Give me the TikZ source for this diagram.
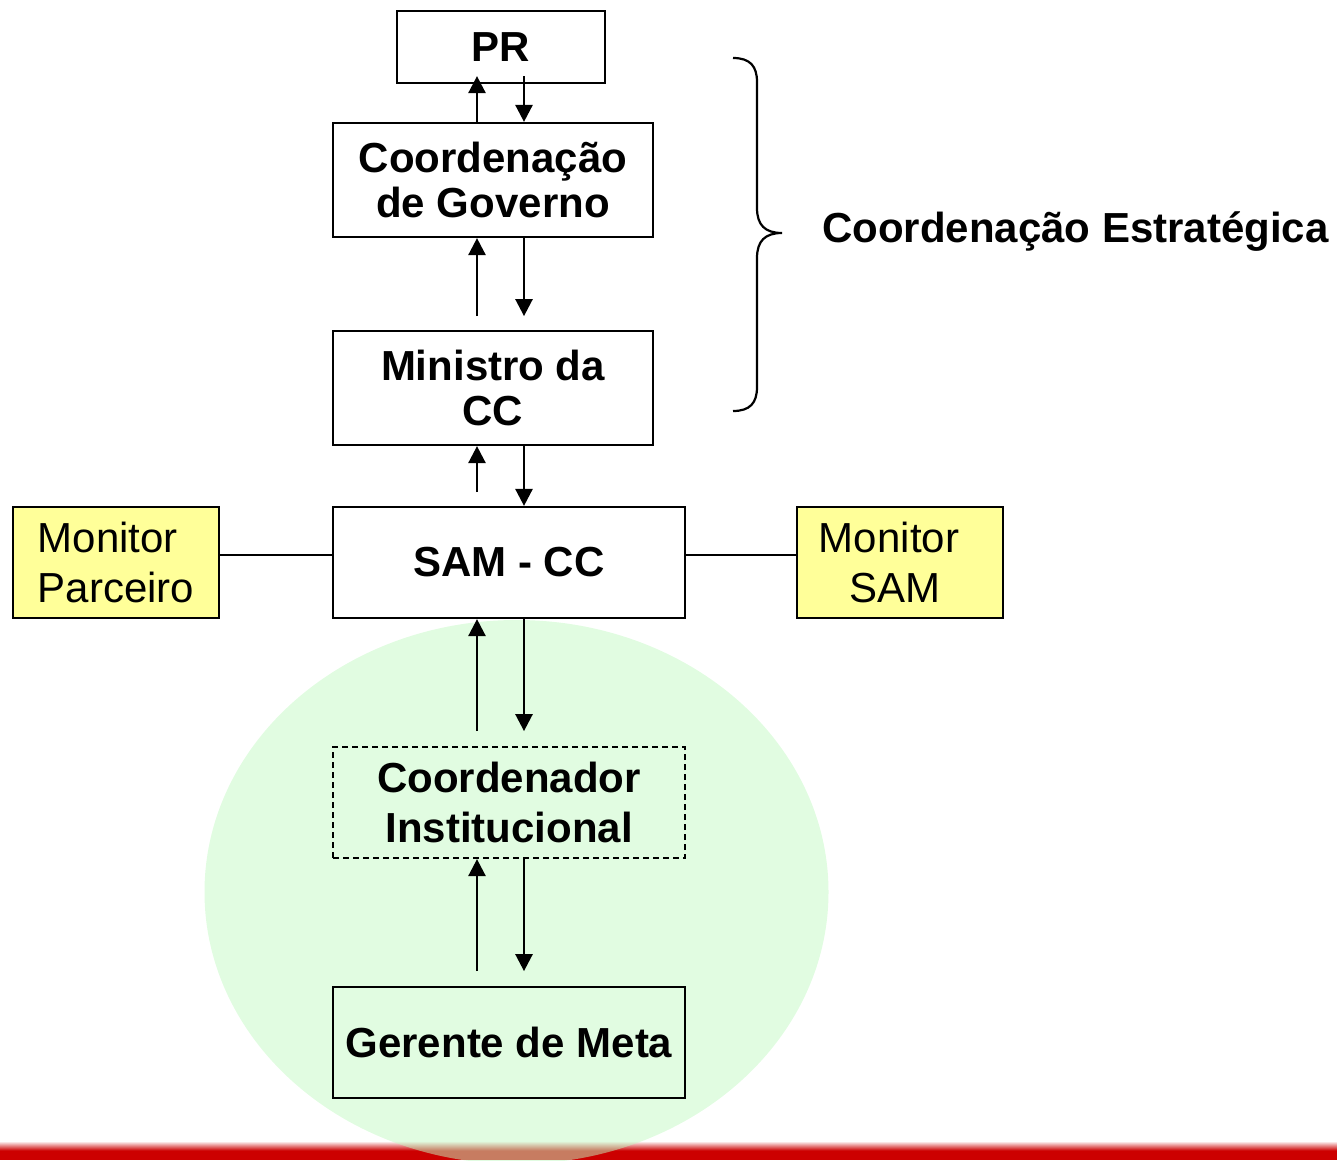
\documentclass[tikz,border=0pt]{standalone}
\usepackage{fontspec}
\setmainfont{Liberation Sans}
\usetikzlibrary{arrows.meta,calc}
\definecolor{ellgreen}{RGB}{195,249,195}
\definecolor{monyellow}{RGB}{255,255,153}
\definecolor{barred}{RGB}{204,0,0}
\begin{document}
\begin{tikzpicture}[x=1pt,y=-1pt,
  box/.style={draw, line width=2.2pt, inner sep=0pt, align=center,
    font=\fontsize{42}{45}\selectfont\bfseries},
  monbox/.style={draw, line width=2.2pt, inner sep=0pt, fill=monyellow,
    font=\fontsize{42}{50}\selectfont},
  arr/.style={line width=2.6pt, -{Triangle[length=17pt,width=17pt]}},
  conn/.style={line width=2.2pt}]
\useasboundingbox (0,0) rectangle (1337,1160);
\begin{scope}
\clip (0,0) rectangle (1337,1160);
\fill[barred] (0,1150) rectangle (1337,1160);
\shade[top color=white, bottom color=barred] (0,1141) rectangle (1337,1150.5);
\fill[ellgreen, opacity=0.5] (516.5,892) ellipse [x radius=312, y radius=272];
\end{scope}
\coordinate (ux) at (477,0);
\coordinate (dx) at (524,0);
\coordinate (ly) at (0,555);
\node[box, minimum width=208pt, minimum height=72pt, fill=white] (pr) at (501,47) {PR};
\node[box, minimum width=320pt, minimum height=114pt, fill=white] (coord) at (493,180) {Coordenação\\de Governo};
\node[box, minimum width=320pt, minimum height=114pt, fill=white] (min) at (493,388) {Ministro da\\CC};
\node[box, minimum width=352pt, minimum height=111pt, fill=white] (sam) at (509,562.5) {SAM - CC};
\node[monbox, minimum width=206pt, minimum height=111pt, align=left] (mp) at (116,562.5) {Monitor\\Parceiro};
\node[monbox, minimum width=206pt, minimum height=111pt, align=center] (ms) at (900,562.5)
  {Monitor\hphantom{\rule{22pt}{0pt}}\\SAM\hphantom{\rule{10pt}{0pt}}};
\node[box, dashed, dash pattern=on 6pt off 4pt, minimum width=352pt, minimum height=111pt,
  font=\fontsize{42}{50}\selectfont\bfseries] (ci) at (509,802.5) {Coordenador\\Institucional};
\node[box, minimum width=352pt, minimum height=111pt] (gm) at (509,1042.5) {Gerente de Meta};
\node[anchor=west, inner sep=0pt, font=\fontsize{42}{45}\selectfont\bfseries] (ce) at (822,232) {Coordenação Estratégica};
% connectors
\draw[arr] (coord.north -| ux) -- ($(pr.south -| ux)+(0,-8)$);
\draw[arr] ($(pr.south -| dx)+(0,-8)$) -- (coord.north -| dx);
\draw[arr] ($(coord.south -| ux)+(0,78)$) -- (coord.south -| ux);
\draw[arr] (coord.south -| dx) -- ($(coord.south -| dx)+(0,78)$);
\draw[arr] ($(min.south -| ux)+(0,46)$) -- (min.south -| ux);
\draw[arr] (min.south -| dx) -- (sam.north -| dx);
\draw[arr] ($(sam.south -| ux)+(0,112)$) -- (sam.south -| ux);
\draw[arr] (sam.south -| dx) -- ($(sam.south -| dx)+(0,112)$);
\draw[arr] ($(ci.south -| ux)+(0,112)$) -- (ci.south -| ux);
\draw[arr] (ci.south -| dx) -- ($(ci.south -| dx)+(0,112)$);
\draw[conn] (mp.east |- ly) -- (sam.west |- ly);
\draw[conn] (sam.east |- ly) -- (ms.west |- ly);
% brace
\draw[line width=2.2pt] (733,58) .. controls (750,58) and (757,66) .. (757,82) -- (757,208)
  .. controls (757,225) and (765,233) .. (782,233)
  .. controls (765,233) and (757,241) .. (757,258) -- (757,387)
  .. controls (757,403) and (750,411) .. (733,411);
\end{tikzpicture}
\end{document}
